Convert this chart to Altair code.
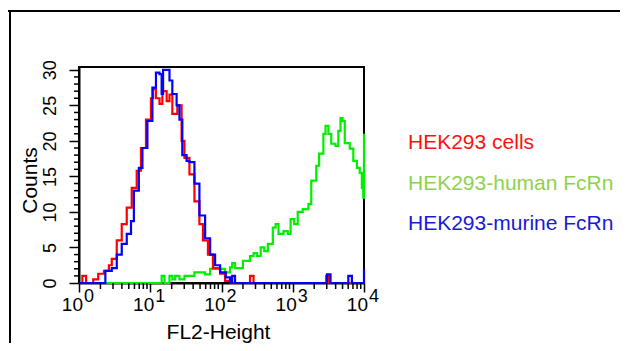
import altair as alt
import pandas as pd

FONT = "Liberation Sans"

series_names = ["HEK293 cells", "HEK293-human FcRn", "HEK293-murine FcRn"]
line_colors = ["#ff0000", "#00ee00", "#0000ff"]
text_colors = ["#ff1010", "#8fd14f", "#1a1ad2"]

# log10(FL2-Height) channel positions and counts
red_log = [0.0, 0.047, 0.10, 0.20, 0.27, 0.35, 0.42, 0.46, 0.53, 0.60, 0.67, 0.74, 0.81, 0.87,
           0.94, 1.01, 1.04, 1.08, 1.13, 1.17, 1.23, 1.27, 1.31, 1.38, 1.44, 1.48, 1.55, 1.62,
           1.69, 1.74, 1.81, 1.88, 1.98, 2.05, 2.12, 2.38, 2.40, 2.45, 3.44, 3.47, 3.51, 4.0]
red_cnt = [0, 1, 0, 0.5, 1.3, 1.7, 2.5, 3.4, 6, 8.3, 10.6, 13.4, 15.8, 19,
           23, 26, 27.3, 26, 25.2, 27, 25.6, 26.5, 23.8, 25, 20, 17.6, 15.3, 11.5,
           8.3, 6, 4, 2.1, 1.3, 0.3, 0, 0, 1, 0, 0, 1, 0, 0]

green_log = [0.0, 1.13, 1.16, 1.20, 1.27, 1.31, 1.35, 1.41, 1.48, 1.62, 1.77, 1.84, 1.98, 2.05,
             2.12, 2.15, 2.19, 2.30, 2.40, 2.45, 2.50, 2.55, 2.60, 2.65, 2.72, 2.76, 2.80, 2.87,
             2.93, 2.97, 3.02, 3.07, 3.14, 3.22, 3.26, 3.33, 3.37, 3.43, 3.46, 3.50, 3.54, 3.60,
             3.64, 3.67, 3.70, 3.73, 3.80, 3.85, 3.90, 3.94, 3.97, 3.99, 4.0]
green_cnt = [0, 0, 1, 0, 1, 0.5, 1, 0.5, 1, 1.5, 1.2, 2, 2, 1.5,
             2.2, 2.8, 2.1, 3.1, 3.8, 4.2, 3.8, 5, 4.5, 5.5, 7.8, 8.3, 6.9, 7.3,
             6.9, 9, 8.3, 10, 10.4, 11.1, 14.4, 16.5, 18.2, 21, 22.1, 21, 19.6, 19.3,
             21.4, 23.2, 22.8, 19.7, 18.9, 17.2, 16.2, 15.5, 13.4, 12, 21]

blue_log = [0.0, 0.32, 0.37, 0.46, 0.53, 0.60, 0.67, 0.73, 0.77, 0.84, 0.89, 0.96, 1.03, 1.08,
            1.13, 1.16, 1.18, 1.23, 1.27, 1.31, 1.37, 1.41, 1.45, 1.51, 1.55, 1.62, 1.69, 1.77,
            1.84, 1.91, 1.98, 2.06, 2.12, 2.15, 2.19, 3.46, 3.48, 3.53, 3.77, 3.78, 3.83, 3.985, 4.0]
blue_cnt = [0, 0, 1.7, 2.1, 4, 5.5, 6.9, 8.7, 13, 16.2, 19, 22.8, 27.5, 29.6,
            29.4, 26.6, 30, 30, 28.5, 26.6, 25, 23, 18, 17.2, 17, 14, 9.5, 6.3,
            4, 2.5, 1.5, 0.8, 0, 1, 0, 0, 1.2, 0, 0, 1, 0, 0, 2]

decades = [1, 10, 100, 1000, 10000]
decade_base = ["10", "10", "10", "10", "10"]
decade_exp = ["0", "1", "2", "3", "4"]
y_major = [0, 5, 10, 15, 20, 25, 30]
y_minor = [v for v in range(0, 31) if v % 5 != 0]
x_minor = [m * d for d in [1, 10, 100, 1000] for m in range(2, 10)]

rows = []
for name, logs, cnts in [(series_names[1], green_log, green_cnt),
                         (series_names[0], red_log, red_cnt),
                         (series_names[2], blue_log, blue_cnt)]:
    for lg, c in zip(logs, cnts):
        rows.append({"series": name, "fl2": 10 ** lg, "count": c})
df = pd.DataFrame(rows)

xscale = alt.Scale(type="log", domain=[1, 10000], nice=False)
yscale = alt.Scale(domain=[0, 30.4], nice=False, zero=False)

x_axis = alt.Axis(
    values=decades, labels=False, grid=False, tickSize=9,
    tickColor="black", tickWidth=1.5, domainColor="black", domainWidth=2,
    title="FL2-Height", titleFont=FONT, titleFontSize=21, titleFontWeight="normal",
    titleColor="black", titleX=139, titleY=55, titleAlign="center", titleBaseline="alphabetic",
)
y_axis = alt.Axis(
    values=y_major, grid=False, tickSize=10,
    tickColor="black", tickWidth=1.5, domainColor="black", domainWidth=2,
    labelAngle=270, labelAlign="center", labelBaseline="alphabetic", labelPadding=14,
    labelFont=FONT, labelFontSize=18, labelColor="black", labelFlush=False, labelOverlap=False,
    title="Counts", titleFont=FONT, titleFontSize=21, titleFontWeight="normal", titleColor="black",
    titleX=-43, titleY=113, titleAngle=270, titleAlign="center", titleBaseline="alphabetic",
)

lines = []
for i, name in enumerate([series_names[1], series_names[0], series_names[2]]):
    col = line_colors[series_names.index(name)]
    sub = df[df["series"] == name]
    lines.append(
        alt.Chart(sub).mark_line(interpolate="step-after", strokeWidth=2.2, color=col).encode(
            x=alt.X("fl2:Q", scale=xscale, axis=x_axis),
            y=alt.Y("count:Q", scale=yscale, axis=y_axis),
            order="fl2:Q",
        )
    )

xminor_df = pd.DataFrame({"fl2": x_minor})
x_minor_ticks = alt.Chart(xminor_df).mark_rule(color="black", strokeWidth=1.5).encode(
    x=alt.X("fl2:Q", scale=xscale, axis=x_axis), y=alt.value(216), y2=alt.value(222))
yminor_df = pd.DataFrame({"count": y_minor})
y_minor_ticks = alt.Chart(yminor_df).mark_rule(color="black", strokeWidth=1.5).encode(
    y=alt.Y("count:Q", scale=yscale, axis=y_axis), x=alt.value(-5), x2=alt.value(0))

tick_df = pd.DataFrame({"fl2": decades, "base": decade_base, "exp": decade_exp})
base_txt = alt.Chart(tick_df).mark_text(
    align="right", baseline="alphabetic", dx=4, font=FONT, fontSize=19, color="black"
).encode(x=alt.X("fl2:Q", scale=xscale, axis=x_axis), y=alt.value(244), text="base:N")
exp_txt = alt.Chart(tick_df).mark_text(
    align="left", baseline="alphabetic", dx=5, font=FONT, fontSize=18, color="black"
).encode(x=alt.X("fl2:Q", scale=xscale, axis=x_axis), y=alt.value(235), text="exp:N")

one = pd.DataFrame({"a": [0]})
legend_y = [82, 123, 163]
legend_layers = []
for name, col, yy in zip(series_names, text_colors, legend_y):
    legend_layers.append(
        alt.Chart(one).mark_text(align="left", baseline="alphabetic", font=FONT, fontSize=21, color=col)
        .encode(x=alt.value(329), y=alt.value(yy), text=alt.value(name))
    )

frame_top = alt.Chart(one).mark_rule(color="black", strokeWidth=2).encode(
    x=alt.value(-71), x2=alt.value(541), y=alt.value(-56))
frame_left = alt.Chart(one).mark_rule(color="black", strokeWidth=2).encode(
    x=alt.value(-69), y=alt.value(-57), y2=alt.value(300))

chart = alt.layer(*lines, x_minor_ticks, y_minor_ticks, base_txt, exp_txt,
                  *legend_layers, frame_top, frame_left).properties(
    width=285, height=216,
    autosize=alt.AutoSizeParams(type="none"),
    padding={"left": 71, "top": 59, "right": 256, "bottom": 60},
    background="white",
).configure_view(stroke="black", strokeWidth=2)

chart.save("out.html", embed_options={"renderer": "svg", "actions": False})
